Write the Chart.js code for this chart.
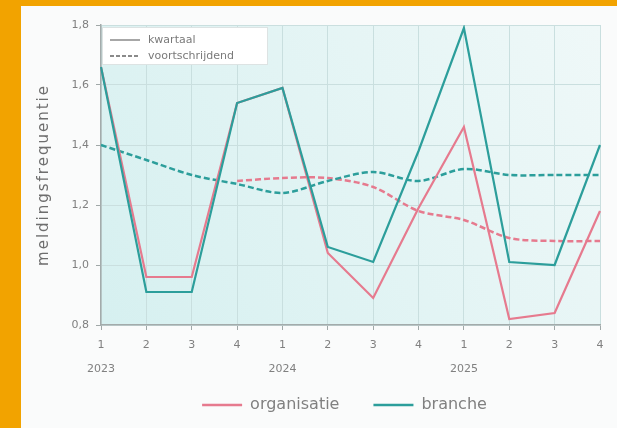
<!DOCTYPE html>
<html>
<head>
<meta charset="utf-8">
<script src="https://cdn.jsdelivr.net/npm/chart.js@4/dist/chart.umd.min.js"></script>
<style>
  html, body { margin: 0; padding: 0; width: 617px; height: 428px; overflow: hidden; background: #f2a300; }
  #card { position: absolute; left: 21px; top: 6px; width: 596px; height: 422px; background: #fafbfb; }
  canvas { display: block; }
</style>
</head>
<body>
<div id="card"><canvas id="chart" width="596" height="422"></canvas></div>
<script>
// Quarter labels with the year under the first quarter of each year
const quarters = ['1', '2', '3', '4', '1', '2', '3', '4', '1', '2', '3', '4'];
const years = ['2023', '', '', '', '2024', '', '', '', '2025', '', '', ''];

// Reporting frequency per quarter
const organisatieKwartaal = [1.66, 0.96, 0.96, 1.54, 1.59, 1.04, 0.89, 1.19, 1.46, 0.82, 0.84, 1.18];
const brancheKwartaal = [1.66, 0.91, 0.91, 1.54, 1.59, 1.06, 1.01, 1.38, 1.79, 1.01, 1.00, 1.40];

// Rolling (four-quarter) averages
const organisatieVoortschrijdend = [null, null, null, 1.28, 1.29, 1.29, 1.26, 1.18, 1.15, 1.09, 1.08, 1.08];
const brancheVoortschrijdend = [1.40, 1.35, 1.30, 1.27, 1.24, 1.28, 1.31, 1.28, 1.32, 1.30, 1.30, 1.30];

const yTicks = [0.8, 1.0, 1.2, 1.4, 1.6, 1.8];

const PINK = '#e67a8e';
const TEAL = '#2c9e9b';
const TEXT = '#808080';
const FONT = "'DejaVu Sans', Verdana, sans-serif";

const labels = quarters.map((q, i) => years[i] ? [q, years[i]] : q);

// light cyan fill behind the plot area
const plotBackground = {
  id: 'plotBackground',
  beforeDraw(chart) {
    const { ctx, chartArea: a } = chart;
    const g = ctx.createLinearGradient(a.left, a.bottom, a.right, a.top);
    g.addColorStop(0, '#d6f0f0');
    g.addColorStop(1, '#eff8f8');
    ctx.save();
    ctx.fillStyle = g;
    ctx.fillRect(a.left, a.top, a.width, a.height);
    ctx.restore();
  }
};

// centre the series legend under the plot area, just below the year row
const legendPlacement = {
  id: 'legendPlacement',
  afterLayout(chart) {
    const l = chart.legend, a = chart.chartArea;
    const dx = (a.left + a.right) / 2 - (l.left + l.right) / 2 - 6;
    l.left += dx; l.right += dx;
    l.top = a.bottom + 38;
    l.height = 70;
    l.bottom = l.top + l.height;
  }
};

// line-style key in the upper left corner and the spaced-out y title
const annotations = {
  id: 'annotations',
  afterDatasetsDraw(chart) {
    const { ctx, chartArea: a } = chart;
    const x0 = a.left + 1, y0 = a.top + 2;
    ctx.save();
    ctx.fillStyle = '#ffffff';
    ctx.strokeStyle = '#dde3e3';
    ctx.lineWidth = 1;
    ctx.fillRect(x0, y0, 166, 38);
    ctx.strokeRect(x0 + 0.5, y0 + 0.5, 165, 37);

    ctx.strokeStyle = '#8a8a8a';
    ctx.lineWidth = 1.5;
    ctx.beginPath();
    ctx.moveTo(x0 + 8, y0 + 13); ctx.lineTo(x0 + 38, y0 + 13);
    ctx.stroke();
    ctx.lineWidth = 2;
    ctx.setLineDash([4, 2]);
    ctx.beginPath();
    ctx.moveTo(x0 + 8, y0 + 29); ctx.lineTo(x0 + 38, y0 + 29);
    ctx.stroke();
    ctx.setLineDash([]);

    ctx.fillStyle = '#7a7a7a';
    ctx.font = '11px ' + FONT;
    ctx.textBaseline = 'middle';
    ctx.fillText('kwartaal', x0 + 46, y0 + 13);
    ctx.fillText('voortschrijdend', x0 + 46, y0 + 29);
    ctx.restore();
  },
  afterDraw(chart) {
    const { ctx, chartArea: a } = chart;
    ctx.save();
    ctx.translate(23, (a.top + a.bottom) / 2);
    ctx.rotate(-Math.PI / 2);
    ctx.font = '15px ' + FONT;
    if ('letterSpacing' in ctx) ctx.letterSpacing = '2px';
    ctx.fillStyle = '#6e6e6e';
    ctx.textAlign = 'center';
    ctx.textBaseline = 'middle';
    ctx.fillText('meldingsfrequentie', 0, 0);
    ctx.restore();
  }
};

new Chart(document.getElementById('chart'), {
  type: 'line',
  data: {
    labels: labels,
    datasets: [
      { label: 'organisatie', data: organisatieKwartaal, borderColor: PINK, backgroundColor: PINK,
        borderWidth: 2.2, pointRadius: 0, tension: 0, order: 1 },
      { label: 'branche', data: brancheKwartaal, borderColor: TEAL, backgroundColor: TEAL,
        borderWidth: 2.2, pointRadius: 0, tension: 0, order: 0 },
      { label: 'organisatie voortschrijdend', data: organisatieVoortschrijdend, borderColor: PINK,
        borderWidth: 2.5, borderDash: [6, 3], pointRadius: 0, tension: 0.3, order: 3 },
      { label: 'branche voortschrijdend', data: brancheVoortschrijdend, borderColor: TEAL,
        borderWidth: 2.5, borderDash: [6, 3], pointRadius: 0, tension: 0.3, order: 2 }
    ]
  },
  options: {
    responsive: false,
    animation: false,
    layout: { padding: { left: 0, right: 17, top: 19, bottom: 0 } },
    plugins: {
      tooltip: { enabled: false },
      legend: {
        position: 'bottom',
        maxHeight: 47,
        labels: {
          filter: (item) => {
            item.lineWidth = 0;   // thin line swatch, no outline
            return item.datasetIndex < 2;
          },
          sort: (a, b) => a.datasetIndex - b.datasetIndex,
          boxWidth: 40,
          boxHeight: 2.5,
          padding: 34,
          color: TEXT,
          font: { family: FONT, size: 16 }
        }
      }
    },
    scales: {
      x: {
        offset: false,
        grid: { color: '#c9dfdf', tickColor: '#a0a8a8', tickLength: 5, drawOnChartArea: true },
        border: { color: '#a3abab', width: 1.5 },
        ticks: {
          color: TEXT, padding: 3, maxRotation: 0, autoSkip: false,
          font: { family: FONT, size: 11, lineHeight: '24px' }
        },
        afterFit(scale) { scale.height = 56; }
      },
      y: {
        min: 0.8, max: 1.8,
        afterBuildTicks(scale) { scale.ticks = yTicks.map(v => ({ value: v })); },
        grid: { color: '#cadfdf', tickColor: '#a0a8a8', tickLength: 5 },
        border: { color: '#a3abab', width: 1.5 },
        ticks: {
          color: TEXT, padding: 7,
          font: { family: FONT, size: 11 },
          callback: (v) => Number(v).toFixed(1).replace('.', ',')
        },
        afterFit(scale) { scale.width = 80; }
      }
    }
  },
  plugins: [plotBackground, legendPlacement, annotations]
});
</script>
</body>
</html>
